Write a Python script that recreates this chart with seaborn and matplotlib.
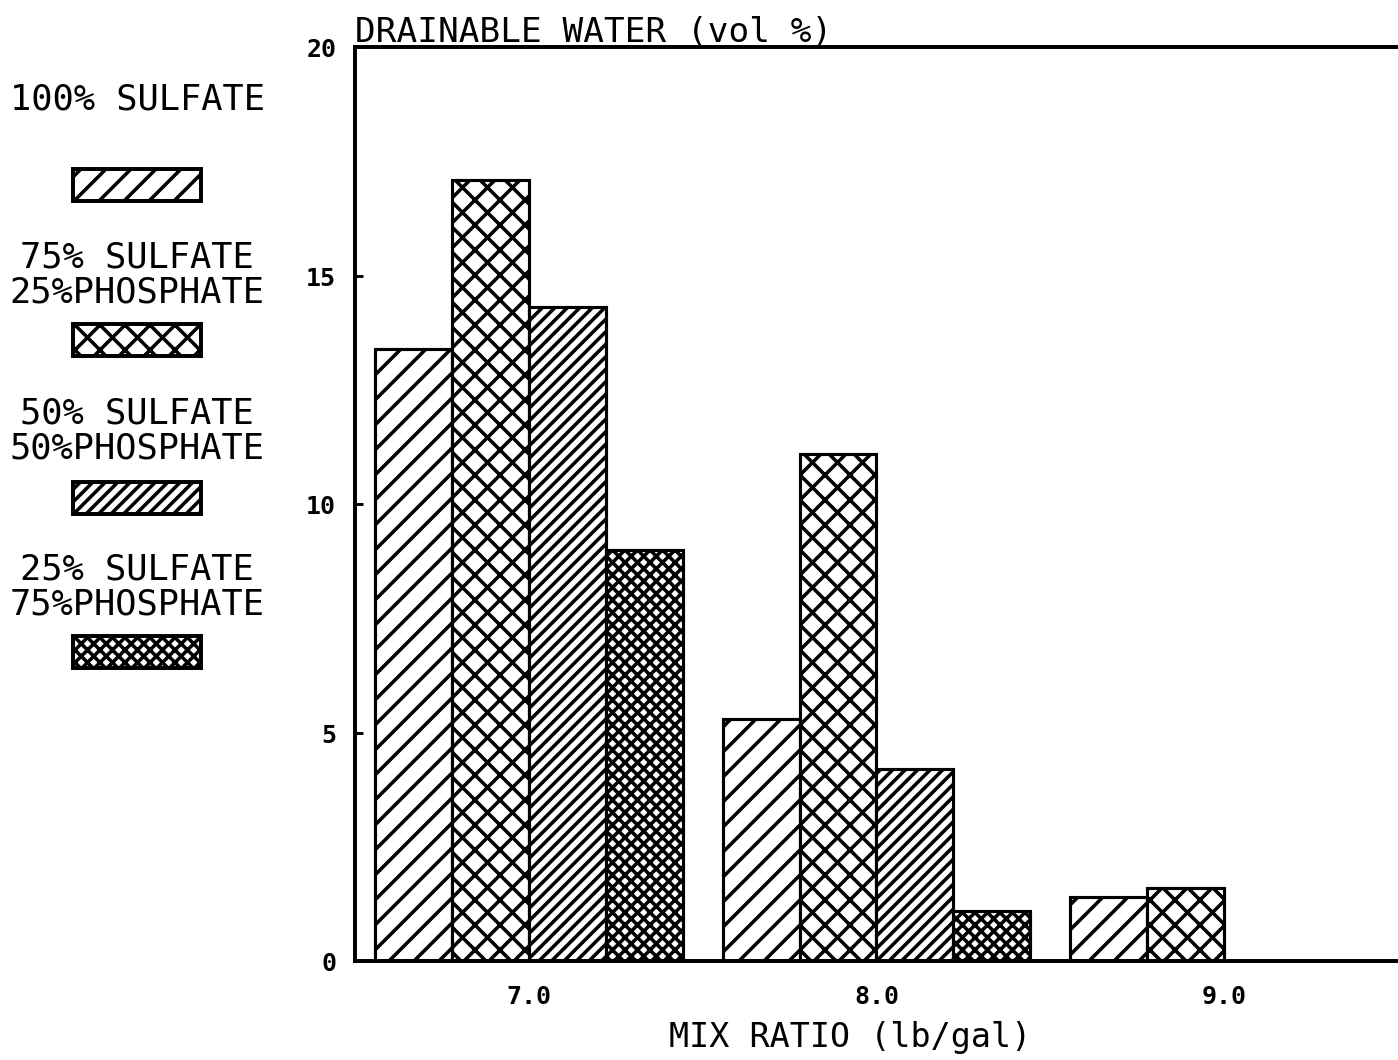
import pandas as pd
import matplotlib.pyplot as plt
import seaborn as sns
from matplotlib.patches import Rectangle

# values (drainable water, vol %)
mix_ratio = ["7.0", "8.0", "9.0"]
blends = ["100% SULFATE",
          "75% SULFATE\n25%PHOSPHATE",
          "50% SULFATE\n50%PHOSPHATE",
          "25% SULFATE\n75%PHOSPHATE"]
sulfate_100 = [13.4, 5.3, 1.4]
sulfate_75 = [17.1, 11.1, 1.6]
sulfate_50 = [14.3, 4.2, None]
sulfate_25 = [9.0, 1.1, None]
y_ticks = [0, 5, 10, 15, 20]

hatches = ["//", "xx", "////", "xxxx"]

rows = []
for blend, vals in zip(blends, [sulfate_100, sulfate_75, sulfate_50, sulfate_25]):
    for mix, v in zip(mix_ratio, vals):
        rows.append({"mix": mix, "blend": blend, "water": v})
df = pd.DataFrame(rows).dropna()

sns.set_theme(style="white")
plt.rcParams["font.family"] = ["DejaVu Sans Mono", "DejaVu Sans"]
plt.rcParams["text.color"] = "black"
plt.rcParams["axes.labelcolor"] = "black"
plt.rcParams["xtick.color"] = "black"
plt.rcParams["ytick.color"] = "black"
plt.rcParams["hatch.linewidth"] = 1.7
plt.rcParams["hatch.color"] = "black"

fig = plt.figure(figsize=(9.32, 7.0733), dpi=150)
ax = fig.add_axes([355 / 1398, 1 - 962 / 1061, 1 - 355 / 1398, (962 - 48) / 1061])

sns.barplot(data=df, x="mix", y="water", hue="blend", order=mix_ratio,
            hue_order=blends, palette=["white"] * 4, saturation=1,
            edgecolor="black", linewidth=1.5, width=0.885, legend=False, ax=ax)

for cont, h in zip(ax.containers, hatches):
    for bar in cont:
        bar.set_hatch(h)

ax.set_ylim(0, 20)
ax.set_yticks(y_ticks)
ax.set_yticklabels([str(t) for t in y_ticks], fontsize=12, fontweight="bold")
ax.set_xticks(range(len(mix_ratio)))
ax.set_xticklabels(mix_ratio, fontsize=12, fontweight="bold")
ax.tick_params(axis="y", direction="in", length=4, width=1.4, pad=9, left=True)
ax.tick_params(axis="x", length=0, pad=11)

for side in ["left", "top", "bottom"]:
    ax.spines[side].set_linewidth(1.9)
    ax.spines[side].set_color("black")
ax.spines["right"].set_visible(False)

ax.set_xlabel("MIX RATIO (lb/gal)", fontsize=16)
ax.xaxis.set_label_coords(0.475, -0.065)
ax.set_ylabel("")
ax.set_title("DRAINABLE WATER (vol %)", loc="left", fontsize=16.5, pad=3)

# hand-drawn legend to the left, label above swatch like the original
lax = fig.add_axes([0, 0, 350 / 1398, 1])
lax.set_xlim(0, 350)
lax.set_ylim(1061, 0)
lax.axis("off")
label_y = [100, 275, 431, 587]
swatch_y = [170, 325, 483, 637]
for blend, h, ty, sy in zip(blends, hatches, label_y, swatch_y):
    lax.text(137, ty, blend, ha="center", va="center", fontsize=17,
             linespacing=1.05)
    lax.add_patch(Rectangle((73, sy), 128, 32, facecolor="white",
                            edgecolor="black", linewidth=1.9, hatch=h))

fig.savefig("out.png", dpi=150)
